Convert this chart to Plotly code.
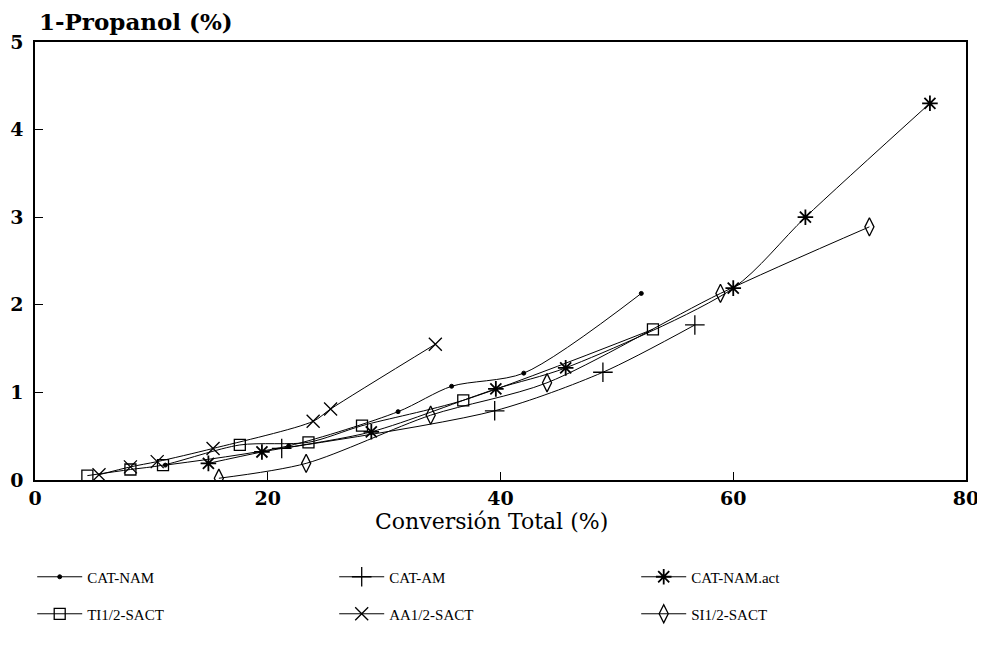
import plotly.graph_objects as go

# ---- data ----
cat_nam_x = [11.2, 21.8, 31.2, 35.8, 42.0, 52.1]
cat_nam_y = [0.17, 0.39, 0.78, 1.07, 1.22, 2.13]

cat_am_x = [21.2, 39.5, 48.8, 56.7]
cat_am_y = [0.36, 0.79, 1.23, 1.77]

cat_nam_act_x = [14.9, 19.5, 28.9, 39.6, 45.6, 60.0, 66.2, 76.9]
cat_nam_act_y = [0.19, 0.32, 0.55, 1.04, 1.28, 2.19, 3.00, 4.30]

ti_x = [4.5, 8.2, 11.0, 17.6, 23.5, 28.1, 36.8, 53.1]
ti_y = [0.05, 0.12, 0.17, 0.40, 0.43, 0.62, 0.91, 1.72]

aa_x = [5.5, 8.2, 10.5, 15.3, 23.9, 25.4, 34.4]
aa_y = [0.06, 0.15, 0.21, 0.36, 0.67, 0.81, 1.55]

si_x = [15.8, 23.3, 34.0, 44.0, 58.9, 71.7]
si_y = [0.02, 0.19, 0.74, 1.11, 2.13, 2.89]

x_ticks = [0, 20, 40, 60, 80]
y_ticks = [0, 1, 2, 3, 4, 5]

series = [
    ("CAT-NAM", cat_nam_x, cat_nam_y, "circle", 4, 1, "legend"),
    ("CAT-AM", cat_am_x, cat_am_y, "cross-thin-open", 14, 1.3, "legend"),
    ("CAT-NAM.act", cat_nam_act_x, cat_nam_act_y, "asterisk-open", 13, 1.8, "legend"),
    ("TI1/2-SACT", ti_x, ti_y, "square-open", 11, 1.3, "legend2"),
    ("AA1/2-SACT", aa_x, aa_y, "x-thin-open", 13, 1.3, "legend2"),
    ("SI1/2-SACT", si_x, si_y, "diamond-tall-open", 13, 1.3, "legend2"),
]

fig = go.Figure()
for name, xs, ys, sym, size, lw, leg in series:
    fig.add_trace(go.Scatter(
        x=xs, y=ys, name=name, mode="lines+markers",
        line=dict(color="black", width=1, shape="spline", smoothing=0.8),
        marker=dict(symbol=sym, size=size, color="black",
                    line=dict(color="black", width=lw)),
        legend=leg,
    ))

serif = "DejaVu Serif"
legfont = dict(family="Liberation Serif", size=15, color="black")

fig.update_layout(
    width=977, height=646,
    margin=dict(l=27, r=19, t=34, b=174),
    paper_bgcolor="white", plot_bgcolor="white",
    showlegend=True,
    legend=dict(orientation="h", x=-0.003, xanchor="left", y=-0.2215, yanchor="middle",
                font=legfont, itemwidth=45, entrywidth=242, bgcolor="rgba(0,0,0,0)"),
    legend2=dict(orientation="h", x=-0.003, xanchor="left", y=-0.306, yanchor="middle",
                 font=legfont, itemwidth=45, entrywidth=242, bgcolor="rgba(0,0,0,0)"),
    xaxis=dict(range=[0, 80], tickvals=x_ticks, ticks="inside", ticklen=8,
               tickcolor="black", showline=True, linecolor="black", linewidth=1.5,
               mirror=True, showgrid=False, zeroline=False, automargin=False,
               tickfont=dict(family=serif, size=19, color="black", weight="bold")),
    yaxis=dict(range=[0, 5], tickvals=y_ticks, ticks="inside", ticklen=8,
               tickcolor="black", showline=True, linecolor="black", linewidth=1.5,
               mirror=True, showgrid=False, zeroline=False, ticklabelstandoff=6,
               automargin=False,
               tickfont=dict(family=serif, size=19, color="black", weight="bold")),
    annotations=[
        dict(text="1-Propanol (%)", xref="paper", yref="paper", x=0.002, y=1.046,
             xanchor="left", yanchor="middle", showarrow=False,
             font=dict(family=serif, size=23, color="black", weight="bold")),
        dict(text="Conversión Total (%)", xref="paper", yref="paper", x=0.49, y=-0.094,
             xanchor="center", yanchor="middle", showarrow=False,
             font=dict(family=serif, size=22, color="black")),
    ],
)

fig.write_html("out.html")
